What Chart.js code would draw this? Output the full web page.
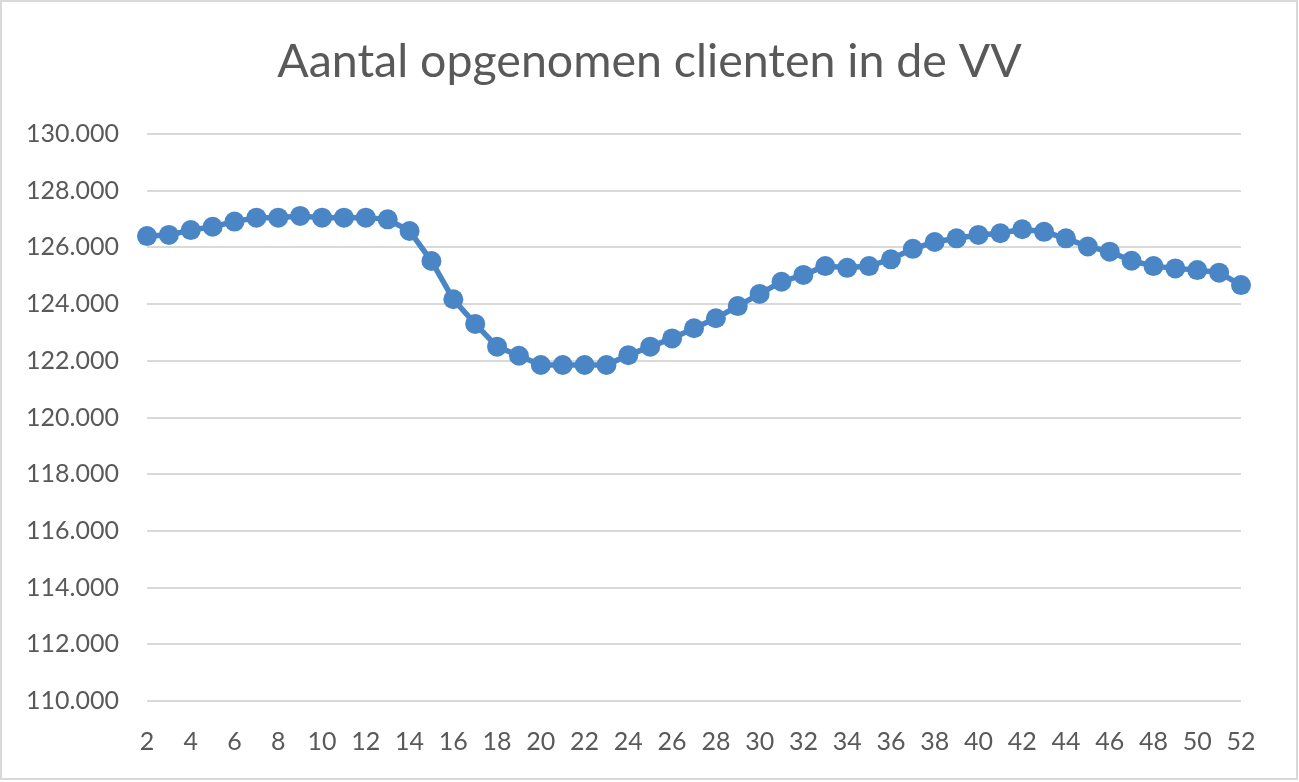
<!DOCTYPE html>
<html>
<head>
<meta charset="utf-8">
<script src="https://cdn.jsdelivr.net/npm/chart.js@4"></script>
<style>
html,body{margin:0;padding:0;background:#fff;}
#wrap{width:1299px;height:782px;position:relative;}
</style>
</head>
<body>
<div id="wrap"><canvas id="c" width="1299" height="782"></canvas></div>
<script>
const titleText = "Aantal opgenomen clienten in de VV";
const weeks = [2,3,4,5,6,7,8,9,10,11,12,13,14,15,16,17,18,19,20,21,22,23,24,25,26,27,28,29,30,31,32,33,34,35,36,37,38,39,40,41,42,43,44,45,46,47,48,49,50,51,52];
const clients = [126400,126440,126610,126730,126910,127050,127050,127110,127050,127050,127050,126990,126580,125520,124170,123300,122500,122180,121850,121850,121850,121850,122200,122500,122790,123150,123500,123930,124360,124790,125030,125340,125280,125340,125580,125950,126190,126320,126440,126500,126640,126550,126320,126030,125850,125530,125340,125260,125200,125110,124670];
const yMin = 110000, yMax = 130000, yStep = 2000;

function fmt(v){
  const s = String(Math.round(v));
  return s.replace(/\B(?=(\d{3})+(?!\d))/g, ".");
}

const FONT = "Lato, 'Open Sans', sans-serif";
const borderPlugin = {
  id:'frame',
  beforeDraw(chart){
    const ctx = chart.ctx;
    ctx.save();
    ctx.fillStyle = '#fff';
    ctx.fillRect(0,0,chart.width,chart.height);
    ctx.strokeStyle = '#d9d9d9';
    ctx.lineWidth = 2;
    ctx.strokeRect(1,1,chart.width-3,chart.height-4);
    ctx.restore();
  }
};

new Chart(document.getElementById('c'), {
  type:'line',
  data:{
    labels: weeks,
    datasets:[{
      data: clients,
      borderColor:'#4a86c6',
      backgroundColor:'#4a86c6',
      borderWidth:5.5,
      pointRadius:10,
      pointBorderWidth:0,
      pointBackgroundColor:'#4a86c6',
      tension:0
    }]
  },
  options:{
    responsive:false,
    animation:false,
    devicePixelRatio:1,
    layout:{padding:{left:0,right:0,top:0,bottom:0}},
    plugins:{
      legend:{display:false},
      tooltip:{enabled:false},
      title:{
        display:true,
        text:titleText,
        color:'#595959',
        font:{family:FONT,size:46.5,weight:'normal',lineHeight:1.2},
        padding:{top:34,bottom:44.2}
      }
    },
    scales:{
      x:{
        type:'category',
        offset:false,
        grid:{display:false,drawTicks:false},
        border:{display:false},
        ticks:{
          autoSkip:false,
          maxRotation:0,
          minRotation:0,
          color:'#595959',
          font:{family:FONT,size:25},
          padding:26,
          callback:function(val,idx){ const w = weeks[idx]; return (w % 2 === 0) ? String(w) : ''; }
        },
        afterFit(scale){ scale.height = 782 - 701; }
      },
      y:{
        min:yMin,max:yMax,
        grid:{color:'#d9d9d9',lineWidth:2,drawTicks:false},
        border:{display:false},
        ticks:{
          stepSize:yStep,
          color:'#595959',
          font:{family:FONT,size:25},
          padding:28,
          callback:(v)=>fmt(v)
        },
        afterFit(scale){ scale.width = 147; }
      },
      yRight:{
        position:'right',
        display:true,
        grid:{display:false,drawTicks:false},
        border:{display:false},
        ticks:{display:false},
        afterFit(scale){ scale.width = 1299 - 1241; }
      }
    }
  },
  plugins:[borderPlugin]
});
</script>
</body>
</html>
